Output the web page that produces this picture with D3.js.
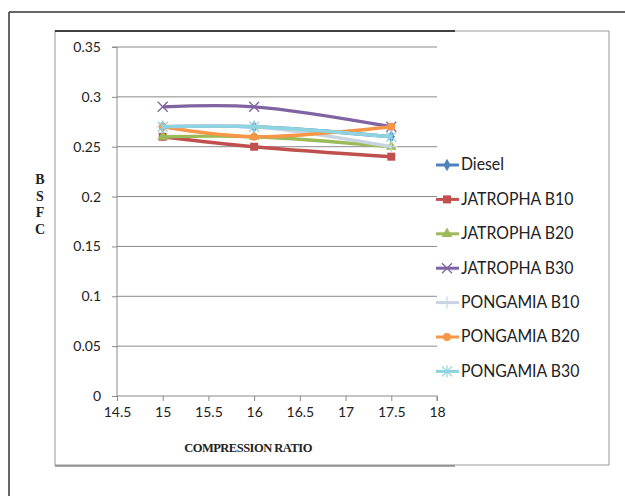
<!DOCTYPE html>
<html>
<head>
<meta charset="utf-8">
<script src="https://cdn.jsdelivr.net/npm/d3@7"></script>
<style>
  body { margin: 0; background: #fff; }
  svg { display: block; }
</style>
</head>
<body>
<svg id="chart" width="625" height="496"></svg>
<script>
// compression ratio values on the x axis
const ratios = [15, 16, 17.5];
const xTicks = [14.5, 15, 15.5, 16, 16.5, 17, 17.5, 18];
const yTicks = [0, 0.05, 0.1, 0.15, 0.2, 0.25, 0.3, 0.35];

const seriesNames = ["Diesel", "JATROPHA B10", "JATROPHA B20", "JATROPHA B30",
                     "PONGAMIA B10", "PONGAMIA B20", "PONGAMIA B30"];
const diesel = [0.27, 0.27, 0.26];
const jatrophaB10 = [0.26, 0.25, 0.24];
const jatrophaB20 = [0.26, 0.26, 0.25];
const jatrophaB30 = [0.29, 0.29, 0.27];
const pongamiaB10 = [0.27, 0.27, 0.25];
const pongamiaB20 = [0.27, 0.26, 0.27];
const pongamiaB30 = [0.27, 0.27, 0.26];
const seriesValues = [diesel, jatrophaB10, jatrophaB20, jatrophaB30, pongamiaB10, pongamiaB20, pongamiaB30];

const colors = ["#4F81BD", "#C0504D", "#9BBB59", "#8064A2", "#C9D4E2", "#F79646", "#8ED3E0"];
const markers = ["diamond", "square", "triangle", "x", "plus", "circle", "star"];

const svg = d3.select("#chart");

// page frame lines
svg.append("line").attr("x1", 9).attr("x2", 625).attr("y1", 12).attr("y2", 12)
  .attr("stroke", "#333").attr("stroke-width", 1.5);
svg.append("line").attr("x1", 9).attr("x2", 9).attr("y1", 12).attr("y2", 496)
  .attr("stroke", "#333").attr("stroke-width", 1.5);

// chart box
svg.append("rect").attr("x", 55).attr("y", 31).attr("width", 554).attr("height", 434)
  .attr("fill", "none").attr("stroke", "#999");
svg.append("line").attr("x1", 55).attr("x2", 455).attr("y1", 31).attr("y2", 31)
  .attr("stroke", "#111").attr("stroke-width", 1.5);
svg.append("line").attr("x1", 55).attr("x2", 455).attr("y1", 466).attr("y2", 466)
  .attr("stroke", "#555").attr("stroke-width", 1);

const x = d3.scaleLinear().domain([14.5, 18]).range([117, 437]);
const y = d3.scaleLinear().domain([0, 0.35]).range([396, 47]);

// gridlines
svg.append("g").selectAll("line").data(yTicks.filter(d => d > 0)).join("line")
  .attr("x1", x(14.5)).attr("x2", x(18))
  .attr("y1", d => y(d)).attr("y2", d => y(d))
  .attr("stroke", "#8a8a8a").attr("stroke-width", 1);

const tickFont = "Lato, 'Open Sans', sans-serif";

const yAxis = svg.append("g").attr("transform", `translate(${x(14.5)},0)`)
  .call(d3.axisLeft(y).tickValues(yTicks).tickSize(5).tickPadding(11)
    .tickFormat(d => d === 0 ? "0" : String(+d.toFixed(2))));
yAxis.select(".domain").attr("stroke", "#8a8a8a").attr("d", `M-5,${y(0.35)}H0V${y(0)}`);
yAxis.selectAll(".tick line").attr("stroke", "#8a8a8a");
yAxis.selectAll("text").attr("font-family", tickFont).attr("font-size", 14).attr("fill", "#222");

const xAxis = svg.append("g").attr("transform", `translate(0,${y(0)})`)
  .call(d3.axisBottom(x).tickValues(xTicks).tickSize(5).tickPadding(6)
    .tickFormat(d => String(d)));
xAxis.select(".domain").attr("stroke", "#8a8a8a").attr("d", `M${x(14.5)},0H${x(18)}V5`);
xAxis.selectAll(".tick line").attr("stroke", "#8a8a8a");
xAxis.selectAll("text").attr("font-family", tickFont).attr("font-size", 14).attr("fill", "#222");

// axis titles
svg.append("text").attr("x", 248).attr("y", 452).attr("text-anchor", "middle")
  .attr("font-family", "'Liberation Serif', serif").attr("font-weight", "bold")
  .attr("font-size", 12.5).attr("fill", "#222").attr("letter-spacing", -0.5)
  .text("COMPRESSION RATIO");
svg.append("g").selectAll("text").data(["B", "S", "F", "C"]).join("text")
  .attr("x", 40).attr("y", (d, i) => 184 + i * 16.5).attr("text-anchor", "middle")
  .attr("font-family", "'Liberation Serif', serif").attr("font-weight", "bold")
  .attr("font-size", 14).attr("fill", "#222").text(d => d);

function drawMarker(g, type, color) {
  const s = 4;
  if (type === "diamond") {
    g.append("path").attr("d", d3.symbol(d3.symbolDiamond, 45)()).attr("fill", color);
  } else if (type === "square") {
    g.append("rect").attr("x", -s).attr("y", -s).attr("width", 2 * s).attr("height", 2 * s).attr("fill", color);
  } else if (type === "triangle") {
    g.append("path").attr("d", d3.symbol(d3.symbolTriangle, 50)()).attr("fill", color);
  } else if (type === "x") {
    g.append("path").attr("d", `M${-s - 1},${-s - 1}L${s + 1},${s + 1}M${-s - 1},${s + 1}L${s + 1},${-s - 1}`)
      .attr("stroke", color).attr("stroke-width", 1.3);
  } else if (type === "plus") {
    g.append("path").attr("d", `M${-s - 2},0H${s + 2}M0,${-s - 2}V${s + 2}`)
      .attr("stroke", color).attr("stroke-width", 1.2);
  } else if (type === "circle") {
    g.append("circle").attr("r", s).attr("fill", color);
  } else if (type === "star") {
    g.append("path").attr("d", `M${-s - 1},${-s - 1}L${s + 1},${s + 1}M${-s - 1},${s + 1}L${s + 1},${-s - 1}M0,${-s - 2}V${s + 2}`)
      .attr("stroke", color).attr("stroke-width", 1.2);
  }
}

const line = d3.line()
  .x(d => x(d[0])).y(d => y(d[1]))
  .curve(d3.curveCatmullRom.alpha(0.5));

const plot = svg.append("g");
seriesValues.forEach((vals, i) => {
  const pts = ratios.map((r, j) => [r, vals[j]]);
  plot.append("path").datum(pts).attr("d", line)
    .attr("fill", "none").attr("stroke", colors[i]).attr("stroke-width", 3.4)
    .attr("stroke-linejoin", "round");
  pts.forEach(p => {
    const g = plot.append("g").attr("transform", `translate(${x(p[0])},${y(p[1])})`);
    drawMarker(g, markers[i], colors[i]);
  });
});

// legend
const legend = svg.append("g");
seriesNames.forEach((name, i) => {
  const ly = 165 + i * 34.4;
  legend.append("line").attr("x1", 436).attr("x2", 459).attr("y1", ly).attr("y2", ly)
    .attr("stroke", colors[i]).attr("stroke-width", 3);
  const g = legend.append("g").attr("transform", `translate(447,${ly})`);
  drawMarker(g, markers[i], colors[i]);
  legend.append("text").attr("x", 461).attr("y", ly + 5.5)
    .attr("font-family", tickFont).attr("font-size", 16.5).attr("fill", "#222")
    .attr("transform", `translate(461,${ly}) scale(0.96,1) translate(-461,${-ly})`)
    .text(name);
});
</script>
</body>
</html>
